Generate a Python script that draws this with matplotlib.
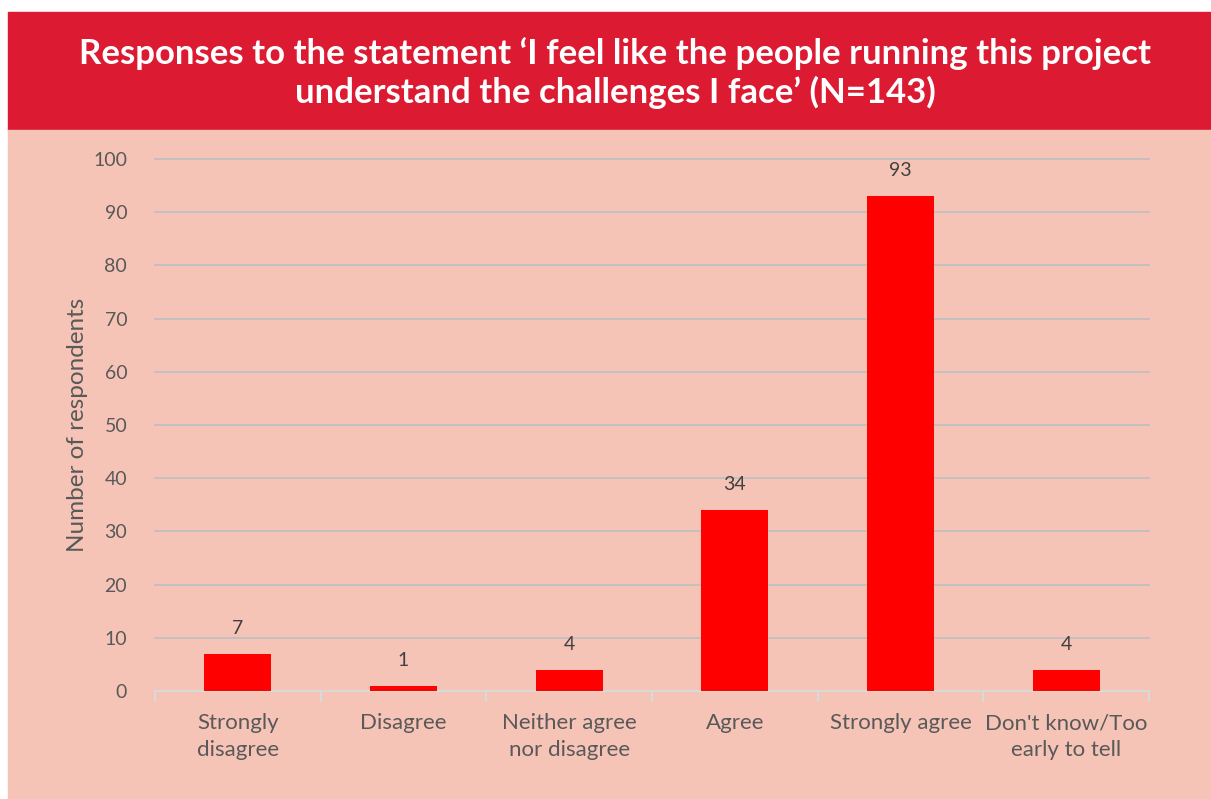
import matplotlib.pyplot as plt
from matplotlib.patches import Rectangle
import numpy as np

categories = ["Strongly\ndisagree", "Disagree", "Neither agree\nnor disagree",
              "Agree", "Strongly agree", "Don't know/Too\nearly to tell"]
counts = [7, 1, 4, 34, 93, 4]
yticks = list(range(0, 101, 10))
title = ("Responses to the statement \u2018I feel like the people running this project\n"
         "understand the challenges I face\u2019 (N=143)")

banner = "#DC1A32"
salmon = "#F6C4B6"
bar_red = "#FF0000"
text_grey = "#595959"

plt.rcParams['font.family'] = ['Lato', 'DejaVu Sans']

fig = plt.figure(figsize=(12.11, 7.99), dpi=100, facecolor="white")

# banner and panel background
fig.patches.append(Rectangle((8 / 1211, 669 / 799), 1 - 8 / 1211, 118 / 799,
                             transform=fig.transFigure, color=banner, zorder=-10))
fig.patches.append(Rectangle((8 / 1211, 0), 1 - 8 / 1211, 669 / 799,
                             transform=fig.transFigure, color=salmon, zorder=-10))
fig.text(0.508, 0.909, title, ha="center", va="center", color="white",
         fontsize=25, fontweight="bold", linespacing=1.22)

ax = fig.add_axes([155 / 1211, 108 / 799, 994 / 1211, 532 / 799])
ax.set_facecolor("none")
x = np.arange(len(categories))
bars = ax.bar(x, counts, width=0.405, color=bar_red, zorder=3)
for b, v in zip(bars, counts):
    ax.text(b.get_x() + b.get_width() / 2, v + 3.2, str(v), ha="center", va="bottom",
            fontsize=14, color="#404040")

ax.set_xlim(-0.5, len(categories) - 0.5)
ax.set_ylim(0, 100)
ax.set_yticks(yticks)
ax.yaxis.grid(True, color="#C0C0C0", linewidth=1.3, zorder=0)
for gl in ax.get_ygridlines():
    gl.set_clip_on(False)
ax.set_axisbelow(True)
for s in ["top", "right", "left"]:
    ax.spines[s].set_visible(False)
ax.spines["bottom"].set_color("#D9D9D9")
ax.spines["bottom"].set_linewidth(1.5)
ax.tick_params(axis="y", length=0, pad=20, labelsize=14, labelcolor=text_grey)

ax.set_xticks(x)
ax.set_xticklabels(categories, fontsize=16, color=text_grey, linespacing=1.4)
ax.tick_params(axis="x", length=0, pad=16)
ax.set_xticks(np.arange(-0.5, len(categories)), minor=True)
ax.tick_params(axis="x", which="minor", length=8, width=1.5, color="#D9D9D9")

ax.set_ylabel("Number of respondents", fontsize=17.5, color=text_grey, labelpad=4)

fig.savefig("out.png", dpi=100, facecolor="white")
